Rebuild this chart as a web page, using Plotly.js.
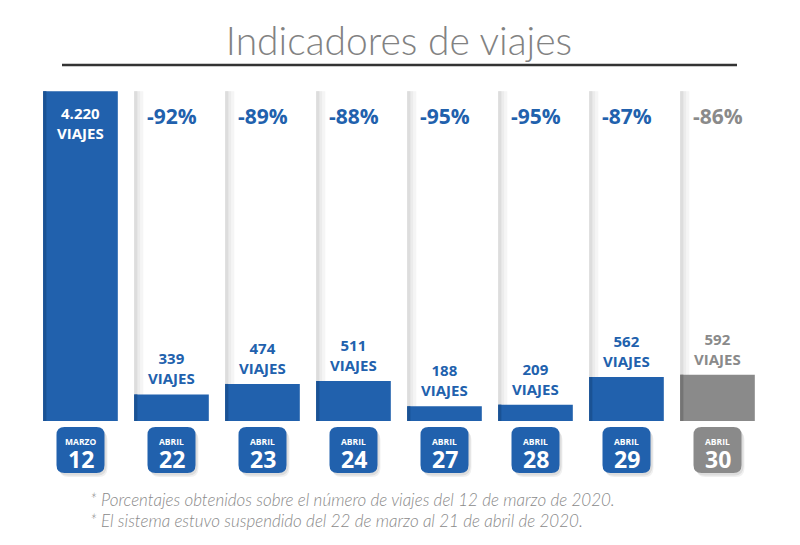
<!DOCTYPE html>
<html>
<head>
<meta charset="utf-8">
<script src="https://cdn.plot.ly/plotly-3.0.1.min.js"></script>
<style>html,body{margin:0;padding:0;background:#fff;}#chart{width:800px;height:545px;}</style>
</head>
<body>
<div id="chart"></div>
<script>
// ---- data ----
const months = ['MARZO','ABRIL','ABRIL','ABRIL','ABRIL','ABRIL','ABRIL','ABRIL'];
const days = ['12','22','23','24','27','28','29','30'];
const trips = [4220, 339, 474, 511, 188, 209, 562, 592];
const tripLabels = ['4.220','339','474','511','188','209','562','592'];
const pctLabels = ['', '-92%', '-89%', '-88%', '-95%', '-95%', '-87%', '-86%'];
const footnotes = [
  '* Porcentajes obtenidos sobre el número de viajes del 12 de marzo de 2020.',
  '* El sistema estuvo suspendido del 22 de marzo al 21 de abril de 2020.'
];

// ---- styling ----
const BLUE = '#2161ad', BLUE_DARK = '#1a5294';
const GRAY = '#8a8a8a', GRAY_DARK = '#747474';
const isLast = i => i === trips.length - 1;
const cats = days.map((d, i) => months[i] + ' ' + d);
const barColors = trips.map((v, i) => isLast(i) ? GRAY : BLUE);
const stripColors = trips.map((v, i) => isLast(i) ? GRAY_DARK : BLUE_DARK);
const textColors = trips.map((v, i) => isLast(i) ? GRAY : BLUE);
const maxV = Math.max(...trips);
const full = trips.map(() => maxV);

const BW = 0.82, HALF = BW / 2;
const traces = [];
// column shadows (left edge gradient)
[[0.10,'#f5f5f5'],[0.065,'#ececec'],[0.035,'#dddddd']].forEach(([w,c]) => {
  traces.push({type:'bar', x:cats, y:full, width:w, offset:-HALF,
    marker:{color:c, line:{width:0}}, hoverinfo:'skip'});
});
// main bars
traces.push({type:'bar', x:cats, y:trips, width:BW, offset:-HALF,
  marker:{color:barColors, line:{width:0}}, hoverinfo:'skip'});
traces.push({type:'bar', x:cats, y:trips, width:0.035, offset:-HALF,
  marker:{color:stripColors, line:{width:0}}, hoverinfo:'skip'});

// rounded date badges (pixel-sized shapes anchored at each category)
function roundRect(cx, cy, hw, hh, r) {
  const L = cx - hw, R = cx + hw, B = cy - hh, T = cy + hh;
  return `M ${L},${B + r} L ${L},${T - r} Q ${L},${T} ${L + r},${T} L ${R - r},${T} Q ${R},${T} ${R},${T - r} ` +
         `L ${R},${B + r} Q ${R},${B} ${R - r},${B} L ${L + r},${B} Q ${L},${B} ${L},${B + r} Z`;
}
const BADGE_Y = 0.0695; // paper fraction of badge centre
const shapes = [];
cats.forEach((c, i) => {
  [[3, -4, 'rgba(0,0,0,0.06)'], [2, -2.5, 'rgba(0,0,0,0.08)']].forEach(([dx, dy, col]) => {
    shapes.push({type:'path', xref:'x', yref:'paper', xsizemode:'pixel', ysizemode:'pixel',
      xanchor:i, yanchor:BADGE_Y, path:roundRect(dx, dy, 24, 23, 9), fillcolor:col, line:{width:0}});
  });
  shapes.push({type:'path', xref:'x', yref:'paper', xsizemode:'pixel', ysizemode:'pixel',
    xanchor:i, yanchor:BADGE_Y, path:roundRect(0, 0, 24, 23, 8), fillcolor:barColors[i], line:{width:0}});
});
shapes.push({type:'line', xref:'paper', yref:'paper', x0:(62-35)/728, x1:(737-35)/728, y0:1.059, y1:1.059,
  line:{color:'#333333', width:2.5}});

const LABEL_FONT = 'Open Sans, Noto Sans, sans-serif';
const annotations = [];
cats.forEach((c, i) => {
  if (i === 0) {
    annotations.push({x:c, y:maxV, xref:'x', yref:'y', yanchor:'top', yshift:-10, showarrow:false,
      text:'<b>' + tripLabels[i] + '<br>VIAJES</b>', font:{family:LABEL_FONT, size:15, color:'#ffffff'}});
  } else {
    annotations.push({x:c, y:maxV, xref:'x', yref:'y', yanchor:'top', yshift:-9, showarrow:false,
      text:'<b>' + pctLabels[i] + '</b>', font:{family:LABEL_FONT, size:21, weight:800, color:textColors[i]}});
    annotations.push({x:c, y:trips[i], xref:'x', yref:'y', yanchor:'bottom', yshift:4, showarrow:false,
      text:'<b>' + tripLabels[i] + '<br>VIAJES</b>', font:{family:LABEL_FONT, size:15, color:textColors[i]}});
  }
  annotations.push({x:c, y:(477-441)/389, xref:'x', yref:'paper', yanchor:'middle', showarrow:false,
    text:'<b>' + months[i] + '</b>', font:{family:LABEL_FONT, size:8.5, color:'#ffffff'}});
  annotations.push({x:c, y:(477-459)/389, xref:'x', yref:'paper', yanchor:'middle', showarrow:false,
    text:'<b>' + days[i] + '</b>', font:{family:LABEL_FONT, size:23, color:'#ffffff'}});
});
footnotes.forEach((t, k) => {
  annotations.push({x:0.073, y:-0.059 - k*0.054, xref:'paper', yref:'paper', xanchor:'left', yanchor:'middle',
    showarrow:false, text:t, font:{family:'Lato, sans-serif', size:17, style:'italic', weight:300, color:'#8a8a8a'}});
});

const layout = {
  width:800, height:545,
  margin:{l:35, r:37, t:88, b:68},
  paper_bgcolor:'#ffffff', plot_bgcolor:'#ffffff',
  barmode:'overlay', showlegend:false, hovermode:false,
  title:{text:'Indicadores de viajes', x:0.5, xref:'paper', xanchor:'center',
    y:1 - 41/545, yref:'container', yanchor:'middle',
    font:{family:'Lato, sans-serif', size:39, weight:300, color:'#828282'}},
  xaxis:{type:'category', range:[-0.5, cats.length - 0.5], showticklabels:false, showgrid:false,
    zeroline:false, showline:false, ticks:''},
  yaxis:{domain:[0.144, 1], range:[0, 4260], showticklabels:false, showgrid:false, zeroline:false, showline:false},
  shapes:shapes,
  annotations:annotations
};

Plotly.newPlot('chart', traces, layout, {staticPlot:true, displayModeBar:false});
</script>
</body>
</html>
